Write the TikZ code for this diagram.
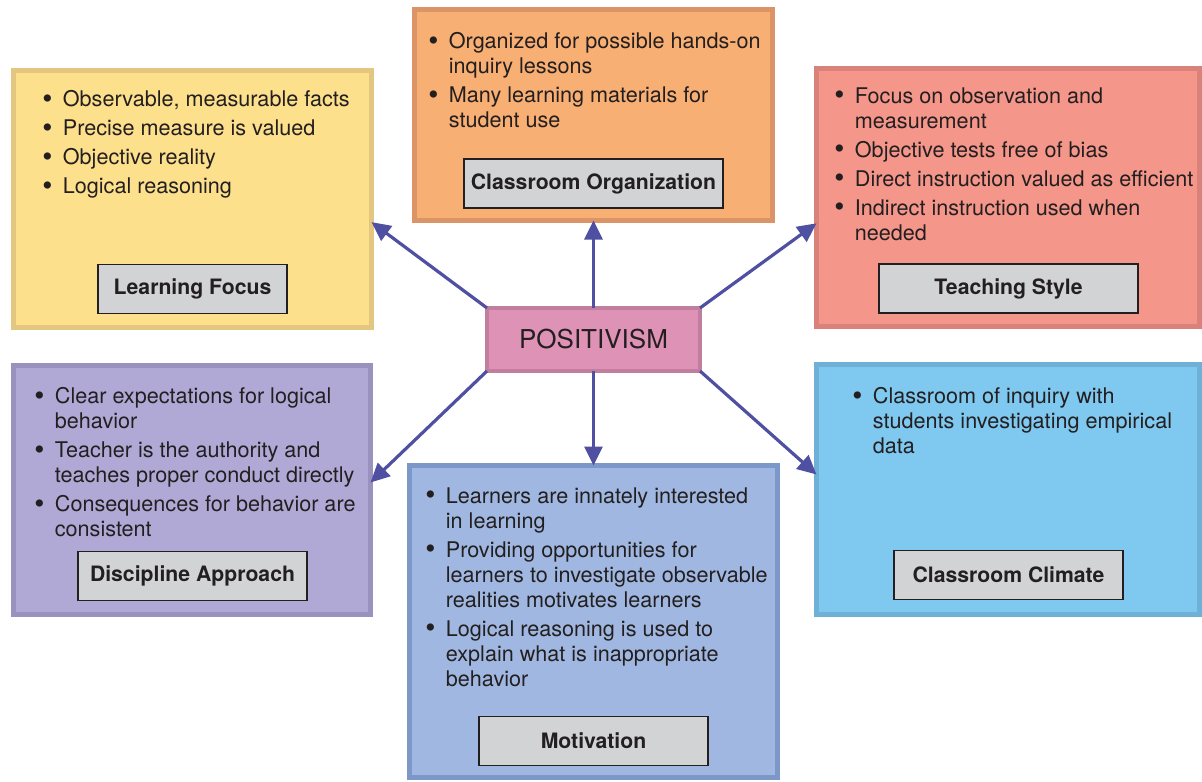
\documentclass[tikz,border=0pt]{standalone}
\usepackage{fontspec}
\setmainfont{TeX Gyre Heros}
\usetikzlibrary{arrows.meta,calc}
\definecolor{ink}{HTML}{231F20}
\definecolor{capgray}{HTML}{D1D3D4}
\definecolor{spokeblue}{HTML}{5050A3}
\definecolor{lffill}{HTML}{FDE08C}\definecolor{lfedge}{HTML}{E3C680}
\definecolor{orgfill}{HTML}{F8AF73}\definecolor{orgedge}{HTML}{DA9468}
\definecolor{tsfill}{HTML}{F5968A}\definecolor{tsedge}{HTML}{DA8279}
\definecolor{dafill}{HTML}{B0A9D6}\definecolor{daedge}{HTML}{9992BE}
\definecolor{motfill}{HTML}{A0B8E1}\definecolor{motedge}{HTML}{7B98C8}
\definecolor{ccfill}{HTML}{7FC8EF}\definecolor{ccedge}{HTML}{6FB0D6}
\definecolor{posfill}{HTML}{DE92B5}\definecolor{posedge}{HTML}{C27E9E}
\newcommand{\bul}{\makebox[0.95em][l]{\raisebox{-0.9pt}{\fontsize{14.5}{14}\selectfont\textbullet}}}
\newcommand{\hng}{\hspace*{0.95em}}
\begin{document}
\begin{tikzpicture}[x=0.5pt, y=-0.5pt,
    every node/.style={font=\fontsize{10.8}{12.5}\selectfont, text=ink},
    topic/.style={draw, line width=2.5pt, inner sep=0pt, outer sep=0pt},
    caption/.style={draw=ink, fill=capgray, line width=0.75pt, inner sep=0pt,
        minimum height=24.5pt, font=\fontsize{10.6}{12.5}\selectfont\bfseries},
    bullets/.style={anchor=north west, align=left, inner sep=0pt},
    spoke/.style={draw=spokeblue, line width=1.6pt, -{Triangle[length=9.5pt,width=9pt]}}]
    \useasboundingbox (0,0) rectangle (1202,781);
    \node[topic, draw=lfedge, fill=lffill, minimum width=179pt, minimum height=128.5pt] (lf) at (192.5,199) {};
    \node[topic, draw=orgedge, fill=orgfill, minimum width=179pt, minimum height=105.5pt] (org) at (593.5,115) {};
    \node[topic, draw=tsedge, fill=tsfill, minimum width=191.5pt, minimum height=129pt] (ts) at (1008,197.5) {};
    \node[topic, draw=daedge, fill=dafill, minimum width=178.5pt, minimum height=124.5pt] (da) at (192,490) {};
    \node[topic, draw=motedge, fill=motfill, minimum width=184pt, minimum height=156pt] (mot) at (593.5,621.5) {};
    \node[topic, draw=ccedge, fill=ccfill, minimum width=191.5pt, minimum height=125pt] (cc) at (1008,489.5) {};
    \node[topic, draw=posedge, fill=posfill, line width=2pt, minimum width=106.5pt, minimum height=31.5pt,
        font=\fontsize{13}{15}\selectfont] (pos) at (593.5,339.5) {POSITIVISM};

    \node[caption, minimum width=94.5pt] (lf-cap) at (192.5,289) {Learning Focus};
    \node[caption, minimum width=129.5pt] (org-cap) at (593.5,183.5) {Classroom Organization};
    \node[caption, minimum width=129.5pt] (ts-cap) at (1008.5,288.5) {Teaching Style};
    \node[caption, minimum width=114.5pt] (da-cap) at (192.5,576) {Discipline Approach};
    \node[caption, minimum width=114.5pt] (mot-cap) at (593.5,741) {Motivation};
    \node[caption, minimum width=114.5pt] (cc-cap) at (1008.5,575) {Classroom Climate};

    \node[bullets] (lf-list) at (42,90) {\bul Observable, measurable facts\\[2pt]
        \bul Precise measure is valued\\[2pt]
        \bul Objective reality\\[2pt]
        \bul Logical reasoning};
    \node[bullets] (org-list) at (428,32) {\bul Organized for possible hands-on\\
        \hng inquiry lessons\\[2pt]
        \bul Many learning materials for\\
        \hng student use};
    \node[bullets] (ts-list) at (834,87) {\bul Focus on observation and\\
        \hng measurement\\[2pt]
        \bul Objective tests free of bias\\[2pt]
        \bul Direct instruction valued as efficient\\[2pt]
        \bul Indirect instruction used when\\
        \hng needed};
    \node[bullets] (da-list) at (34,387) {\bul Clear expectations for logical\\
        \hng behavior\\[2pt]
        \bul Teacher is the authority and\\
        \hng teaches proper conduct directly\\[2pt]
        \bul Consequences for behavior are\\
        \hng consistent};
    \node[bullets] (mot-list) at (425,487) {\bul Learners are innately interested\\
        \hng in learning\\[2pt]
        \bul Providing opportunities for\\
        \hng learners to investigate observable\\
        \hng realities motivates learners\\[2pt]
        \bul Logical reasoning is used to\\
        \hng explain what is inappropriate\\
        \hng behavior};
    \node[bullets] (cc-list) at (852,387) {\bul Classroom of inquiry with\\
        \hng students investigating empirical\\
        \hng data};

    \draw[spoke] (pos.north west) -- ($(lf.north east)!0.59!(lf.south east)$);
    \draw[spoke] (pos.north) -- (org.south);
    \draw[spoke] (pos.north east) -- ($(ts.north west)!0.6!(ts.south west)$);
    \draw[spoke] (pos.south west) -- ($(da.north east)!0.47!(da.south east)$);
    \draw[spoke] (pos.south) -- (mot.north);
    \draw[spoke] (pos.south east) -- ($(cc.north west)!0.44!(cc.south west)$);
\end{tikzpicture}
\end{document}
